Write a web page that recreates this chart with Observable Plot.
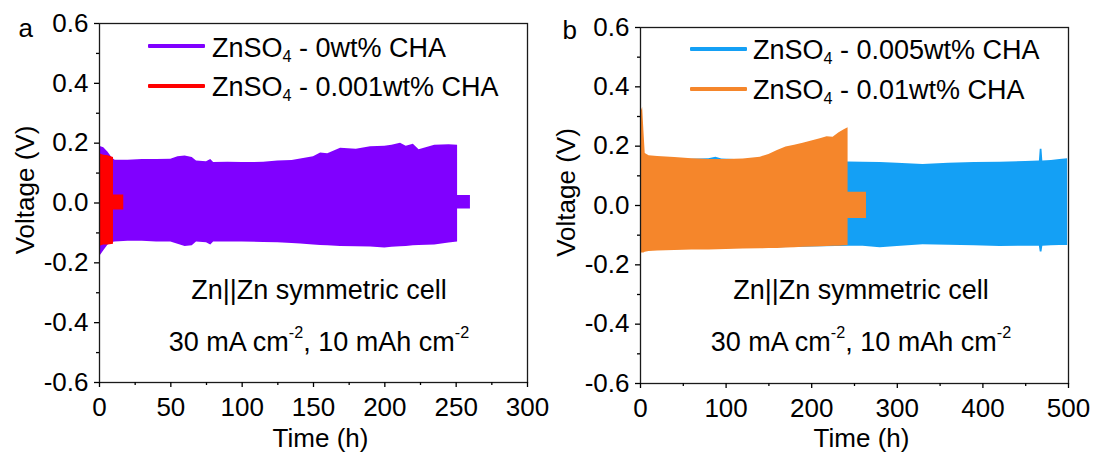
<!DOCTYPE html>
<html><head><meta charset="utf-8">
<script src="https://cdn.jsdelivr.net/npm/d3@7"></script>
<script src="https://cdn.jsdelivr.net/npm/@observablehq/plot@0.6"></script>
<style>
body{margin:0;background:#fff;}
#wrap{position:relative;width:1096px;height:452px;font-family:"Liberation Sans",Arial,sans-serif;color:#000;overflow:hidden;}
.panel{position:absolute;top:0;}
.txt{position:absolute;white-space:nowrap;line-height:1;}
.sw{position:absolute;height:4px;border-radius:1px;}
.sub{font-size:0.6em;position:relative;top:0.33em;}
.sup{font-size:0.6em;position:relative;top:-0.8em;}
</style></head><body><div id="wrap"></div>
<script>
// ---------- data ----------
// Panel a : ZnSO4 - 0wt% CHA (purple)
const purpleT  = [0, 3, 6, 9, 11, 20, 30, 40, 50, 55, 60, 65, 68, 75, 78, 80, 90, 100, 115, 125, 135, 141, 150, 155, 160, 169, 180, 190, 200, 205, 211, 215, 220, 224, 235, 245, 251, 251, 260];
const purpleHi = [0.19, 0.185, 0.17, 0.15, 0.143, 0.143, 0.145, 0.145, 0.146, 0.155, 0.157, 0.152, 0.14, 0.138, 0.145, 0.135, 0.136, 0.135, 0.136, 0.14, 0.142, 0.147, 0.155, 0.167, 0.165, 0.183, 0.18, 0.188, 0.19, 0.193, 0.2, 0.19, 0.196, 0.178, 0.193, 0.195, 0.193, 0.025, 0.025];
const purpleLo = [-0.18, -0.16, -0.14, -0.132, -0.13, -0.128, -0.128, -0.13, -0.13, -0.138, -0.145, -0.143, -0.13, -0.133, -0.14, -0.13, -0.13, -0.13, -0.132, -0.133, -0.135, -0.137, -0.14, -0.142, -0.143, -0.145, -0.146, -0.147, -0.15, -0.148, -0.146, -0.145, -0.143, -0.142, -0.14, -0.134, -0.13, -0.02, -0.02];
// Panel a : ZnSO4 - 0.001wt% CHA (red)
const redT  = [0, 3, 6, 9.8, 9.8, 17];
const redHi = [0.165, 0.16, 0.158, 0.152, 0.027, 0.027];
const redLo = [-0.145, -0.14, -0.14, -0.138, -0.023, -0.023];
// Panel b : ZnSO4 - 0.005wt% CHA (blue)
const blueT  = [0, 20, 50, 80, 88, 95, 110, 150, 200, 243, 260, 280, 300, 330, 360, 390, 420, 450, 466, 467, 469, 470, 480, 490, 499];
const blueHi = [0.155, 0.155, 0.155, 0.158, 0.163, 0.157, 0.155, 0.152, 0.15, 0.147, 0.146, 0.145, 0.142, 0.138, 0.142, 0.145, 0.146, 0.148, 0.15, 0.19, 0.19, 0.15, 0.152, 0.155, 0.158];
const blueLo = [-0.15, -0.15, -0.148, -0.147, -0.147, -0.146, -0.145, -0.143, -0.14, -0.137, -0.137, -0.142, -0.138, -0.132, -0.134, -0.136, -0.138, -0.137, -0.137, -0.157, -0.157, -0.137, -0.136, -0.135, -0.135];
// Panel b : ZnSO4 - 0.01wt% CHA (orange)
const orangeT  = [0, 2.5, 4, 5.5, 10, 20, 40, 60, 80, 100, 120, 140, 150, 160, 170, 180, 190, 200, 210, 218, 225, 232, 238, 242.5, 242.5, 264];
const orangeHi = [0.31, 0.33, 0.25, 0.175, 0.168, 0.165, 0.162, 0.158, 0.155, 0.155, 0.157, 0.163, 0.172, 0.185, 0.197, 0.203, 0.21, 0.217, 0.225, 0.232, 0.23, 0.245, 0.255, 0.262, 0.045, 0.045];
const orangeLo = [-0.16, -0.16, -0.16, -0.158, -0.155, -0.153, -0.152, -0.15, -0.15, -0.148, -0.147, -0.146, -0.145, -0.145, -0.143, -0.142, -0.141, -0.14, -0.139, -0.138, -0.137, -0.137, -0.136, -0.135, -0.044, -0.044];

// tick labels
const xMajorA = [0, 50, 100, 150, 200, 250, 300];
const xMinorA = [25, 75, 125, 175, 225, 275];
const xMajorB = [0, 100, 200, 300, 400, 500];
const xMinorB = [50, 150, 250, 350, 450];
const yMajor = [-0.6, -0.4, -0.2, 0, 0.2, 0.4, 0.6];
const yMinor = [-0.5, -0.3, -0.1, 0.1, 0.3, 0.5];

const seriesNames = ["ZnSO4 - 0wt% CHA", "ZnSO4 - 0.001wt% CHA", "ZnSO4 - 0.005wt% CHA", "ZnSO4 - 0.01wt% CHA"];
const seriesColors = ["#8000ff", "#ff0000", "#14a0f5", "#f5862b"];

const rows = (T, H, L) => T.map((t, i) => ({t, hi: H[i], lo: L[i]}));

const FONT = '"Liberation Sans", Arial, sans-serif';

function panel(o) {
  return Plot.plot({
    width: 548, height: 452,
    marginLeft: o.ml, marginRight: o.mr, marginTop: o.mt, marginBottom: o.mb,
    x: {domain: o.xDomain},
    y: {domain: [-0.6, 0.6]},
    style: {fontFamily: FONT, fontSize: "26px", color: "#000", background: "transparent", overflow: "visible"},
    marks: [
      ...o.series.map(s => Plot.areaY(s.data, {x: "t", y1: "lo", y2: "hi", fill: s.color})),
      Plot.frame({stroke: "#1a1a1a", strokeWidth: 1.3}),
      Plot.axisX({ticks: o.xMajor, tickSize: 5, tickPadding: 10, tickFormat: d => String(d), fontSize: 26, label: null, strokeWidth: 1.3}),
      Plot.axisX({ticks: o.xMinor, tickSize: 3, tickFormat: () => "", label: null, strokeWidth: 1.3}),
      Plot.axisY({ticks: yMajor, tickSize: 5, tickPadding: 6, tickFormat: d => d.toFixed(1), fontSize: 26, label: null, strokeWidth: 1.3}),
      Plot.axisY({ticks: yMinor, tickSize: 3, tickFormat: () => "", label: null, strokeWidth: 1.3}),
      Plot.text(["Time (h)"], {text: d => d, frameAnchor: "bottom", textAnchor: "middle", lineAnchor: "bottom", dx: 7, dy: o.mb - 6, fontSize: 26}),
      Plot.text(["Voltage (V)"], {text: d => d, frameAnchor: "left", textAnchor: "middle", rotate: -90, lineAnchor: "bottom", dx: -66, dy: -13, fontSize: 26}),
      Plot.text([o.letter], {text: d => d, frameAnchor: "top-left", textAnchor: "start", lineAnchor: "bottom", dx: o.ldx, dy: o.ldy, fontSize: 26})
    ]
  });
}

const wrap = document.getElementById("wrap");

const svgA = panel({
  xDomain: [0, 300], xMajor: xMajorA, xMinor: xMinorA,
  ml: 99, mr: 21, mt: 23, mb: 70, letter: "a", ldx: -81, ldy: 13,
  series: [
    {data: rows(purpleT, purpleHi, purpleLo), color: seriesColors[0]},
    {data: rows(redT, redHi, redLo), color: seriesColors[1]}
  ]
});
svgA.classList.add("panel"); svgA.style.left = "0px";
wrap.appendChild(svgA);

const svgB = panel({
  xDomain: [0, 500], xMajor: xMajorB, xMinor: xMinorB,
  ml: 92, mr: 28, mt: 27, mb: 69, letter: "b", ldx: -78, ldy: 11,
  series: [
    {data: rows(blueT, blueHi, blueLo), color: seriesColors[2]},
    {data: rows(orangeT, orangeHi, orangeLo), color: seriesColors[3]}
  ]
});
svgB.classList.add("panel"); svgB.style.left = "548px";
wrap.appendChild(svgB);

// ---------- HTML text overlays (legend + annotations) ----------
function fmtName(name) {
  return name.replace("ZnSO4", 'ZnSO<span class="sub">4</span>');
}
function addText(html, x, baseline, fs, anchor) {
  const d = document.createElement("div");
  d.className = "txt";
  d.style.fontSize = fs + "px";
  d.style.top = (baseline - 0.8465 * fs) + "px";
  d.style.left = x + "px";
  if (anchor === "middle") d.style.transform = "translateX(-50%)";
  d.innerHTML = html;
  wrap.appendChild(d);
}
function addSwatch(x, w, yc, color) {
  const d = document.createElement("div");
  d.className = "sw";
  d.style.left = x + "px"; d.style.width = w + "px";
  d.style.top = (yc - 2) + "px"; d.style.background = color;
  wrap.appendChild(d);
}
// legend a
addSwatch(148, 57, 46, seriesColors[0]); addText(fmtName(seriesNames[0]), 212, 58, 27, "start");
addSwatch(148, 57, 86, seriesColors[1]); addText(fmtName(seriesNames[1]), 212, 97, 27, "start");
// legend b
addSwatch(690, 57, 49, seriesColors[2]); addText(fmtName(seriesNames[2]), 753, 60, 27, "start");
addSwatch(690, 57, 89, seriesColors[3]); addText(fmtName(seriesNames[3]), 753, 100, 27, "start");

const note1 = "Zn||Zn symmetric cell";
const note2 = '30 mA cm<span class="sup">-2</span>, 10 mAh cm<span class="sup">-2</span>';
addText(note1, 319, 300, 27, "middle");
addText(note2, 319, 352, 27, "middle");
addText(note1, 861, 300, 27, "middle");
addText(note2, 861, 352, 27, "middle");
</script>
</body></html>
